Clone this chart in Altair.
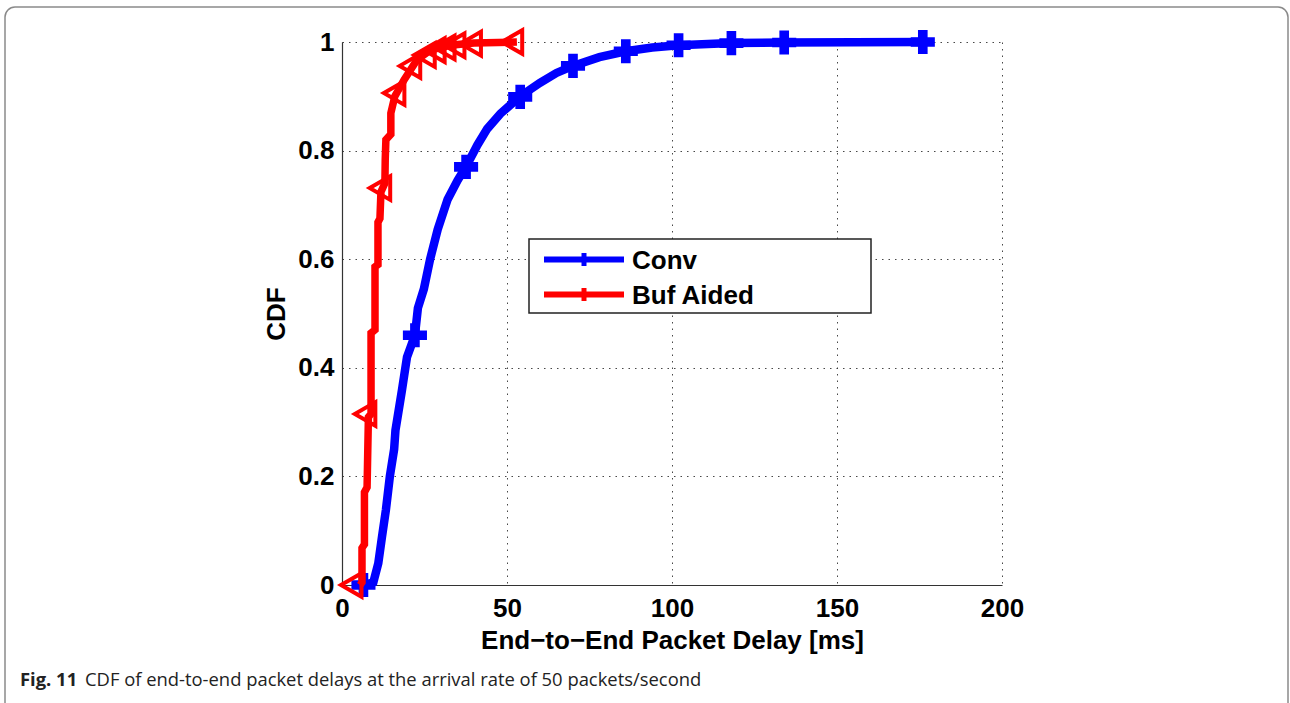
import altair as alt
import pandas as pd

# ---------------- data ----------------
series_names = ["Conv", "Buf Aided"]
series_colors = ["#0000ff", "#ff0000"]

conv_x = [6.5, 9.5, 11.0, 12.1, 13.3, 14.5, 15.8, 16.2, 18.2, 19.7, 22.1, 23.0, 24.8,
          26.7, 29.0, 32.0, 35.0, 38.0, 41.0, 44.0, 48.0, 54.0, 60.0, 65.0, 70.0, 78.0,
          86.0, 94.0, 102.0, 118.0, 134.0, 176.0]
conv_y = [0.0, 0.005, 0.04, 0.088, 0.138, 0.20, 0.25, 0.285, 0.36, 0.42, 0.46, 0.51, 0.545,
          0.60, 0.655, 0.71, 0.745, 0.775, 0.81, 0.84, 0.868, 0.90, 0.925, 0.943, 0.956, 0.972,
          0.983, 0.99, 0.994, 0.998, 0.999, 1.0]

buf_x = [5.5, 6.06, 6.06, 6.8, 6.8, 7.6, 8.0, 8.8, 8.8, 10.0, 10.0, 10.9, 10.9, 11.5,
         11.8, 13.0, 13.1, 13.3, 14.8, 14.8, 16.0, 18.8, 22.7, 26.7, 32.7, 40.0, 53.0]
buf_y = [0.0, 0.005, 0.068, 0.075, 0.171, 0.18, 0.309, 0.315, 0.464, 0.47, 0.586, 0.59,
         0.668, 0.675, 0.724, 0.74, 0.783, 0.82, 0.83, 0.869, 0.90, 0.93, 0.967, 0.985,
         0.994, 0.998, 1.0]

conv_mx = [6.5, 22.1, 37.6, 54.0, 70.0, 86.0, 102.0, 118.0, 134.0, 176.0]
conv_my = [0.0, 0.46, 0.77, 0.899, 0.956, 0.983, 0.994, 0.998, 0.999, 1.0]

buf_mx = [2.8, 7.0, 11.5, 15.8, 20.6, 25.0, 28.0, 31.0, 34.0, 39.0, 51.5]
buf_my = [0.0, 0.315, 0.731, 0.906, 0.956, 0.976, 0.985, 0.99, 0.994, 0.997, 1.0]

x_ticks = [0, 50, 100, 150, 200]
y_ticks = [0, 0.2, 0.4, 0.6, 0.8, 1.0]
x_title = "End\u2212to\u2212End Packet Delay [ms]"
y_title = "CDF"
caption_bold = "Fig. 11"
caption_text = "CDF of end-to-end packet delays at the arrival rate of 50 packets/second"

# ---------------- tables ----------------
conv_df = pd.DataFrame({"x": conv_x, "y": conv_y, "i": range(len(conv_x))})
buf_df = pd.DataFrame({"x": buf_x, "y": buf_y, "i": range(len(buf_x))})
conv_m = pd.DataFrame({"x": conv_mx, "y": conv_my})
buf_m = pd.DataFrame({"x": buf_mx, "y": buf_my})

FONT = "Liberation Sans"
FS = 26

x_enc = alt.X("x:Q", scale=alt.Scale(domain=[0, 200], nice=False, zero=False),
              axis=alt.Axis(values=x_ticks, title=x_title, format="d", ticks=False,
                            labelPadding=10, titlePadding=6))
y_enc = alt.Y("y:Q", scale=alt.Scale(domain=[0, 1], nice=False),
              axis=alt.Axis(values=y_ticks, title=y_title, format=".1~f", ticks=False,
                            labelPadding=8, titlePadding=8))

conv_line = alt.Chart(conv_df).mark_line(
    strokeWidth=8.5, strokeJoin="miter", color=series_colors[0]
).encode(x=x_enc, y=y_enc, order="i:Q")

buf_line = alt.Chart(buf_df).mark_line(
    strokeWidth=7.5, strokeJoin="miter", color=series_colors[1]
).encode(x=x_enc, y=y_enc, order="i:Q")

conv_pts = alt.Chart(conv_m).mark_point(
    shape="cross", filled=True, size=580, color=series_colors[0], opacity=1
).encode(x=x_enc, y=y_enc)

buf_pts = alt.Chart(buf_m).mark_point(
    shape="triangle-left", filled=False, size=560, strokeWidth=4,
    color=series_colors[1], opacity=1
).encode(x=x_enc, y=y_enc)

# ---------------- legend (drawn by hand, MATLAB style) ----------------
leg_box = alt.Chart(pd.DataFrame({"a": [0]})).mark_rect(
    fill="white", stroke="#222222", strokeWidth=1.5
).encode(x=alt.value(187), x2=alt.value(529), y=alt.value(197), y2=alt.value(271))

leg_layers = [leg_box]
for k, (name, col) in enumerate(zip(series_names, series_colors)):
    yy = 217.5 + k * 35
    d = pd.DataFrame({"label": [name]})
    leg_layers.append(alt.Chart(d).mark_rule(color=col, strokeWidth=6).encode(
        x=alt.value(202), x2=alt.value(282), y=alt.value(yy)))
    leg_layers.append(alt.Chart(d).mark_rule(color=col, strokeWidth=5).encode(
        x=alt.value(242), y=alt.value(yy - 6.5), y2=alt.value(yy + 6.5)))
    leg_layers.append(alt.Chart(d).mark_text(
        align="left", baseline="middle", font=FONT, fontSize=FS, fontWeight="bold",
        color="black").encode(x=alt.value(290), y=alt.value(yy + 1), text="label:N"))

# ---------------- frame & caption ----------------
frame = alt.Chart(pd.DataFrame({"a": [0]})).mark_rect(
    fill=None, stroke="#8a8a8a", strokeWidth=1.5, cornerRadius=10
).encode(x=alt.value(-337), x2=alt.value(946), y=alt.value(-35), y2=alt.value(680))

cap_b = alt.Chart(pd.DataFrame({"t": [caption_bold]})).mark_text(
    align="left", baseline="middle", font="Open Sans", fontSize=18.4, fontWeight="bold",
    color="#222222").encode(x=alt.value(-322), y=alt.value(638), text="t:N")
cap_n = alt.Chart(pd.DataFrame({"t": [caption_text]})).mark_text(
    align="left", baseline="middle", font="Open Sans", fontSize=18.4,
    color="#222222").encode(x=alt.value(-257), y=alt.value(638), text="t:N")

chart = alt.layer(
    frame, conv_line, conv_pts, buf_line, buf_pts, *leg_layers, cap_b, cap_n
).properties(
    width=660, height=543,
    autosize=alt.AutoSizeParams(type="none"),
    padding={"left": 342, "top": 42, "right": 288, "bottom": 118},
    background="white",
).configure_view(stroke=None).configure_axis(
    labelFont=FONT, labelFontSize=FS, labelFontWeight="bold", labelColor="black",
    titleFont=FONT, titleFontSize=FS, titleFontWeight="bold", titleColor="black",
    grid=True, gridColor="#333333", gridDash=[1.5, 5], gridWidth=1, gridOpacity=0.9,
    domainColor="#333333", domainWidth=1.2,
).configure_axisX(labelFlush=False).configure_axisY(labelFlush=False)

chart.save("out.html", embed_options={"renderer": "svg", "actions": False})
